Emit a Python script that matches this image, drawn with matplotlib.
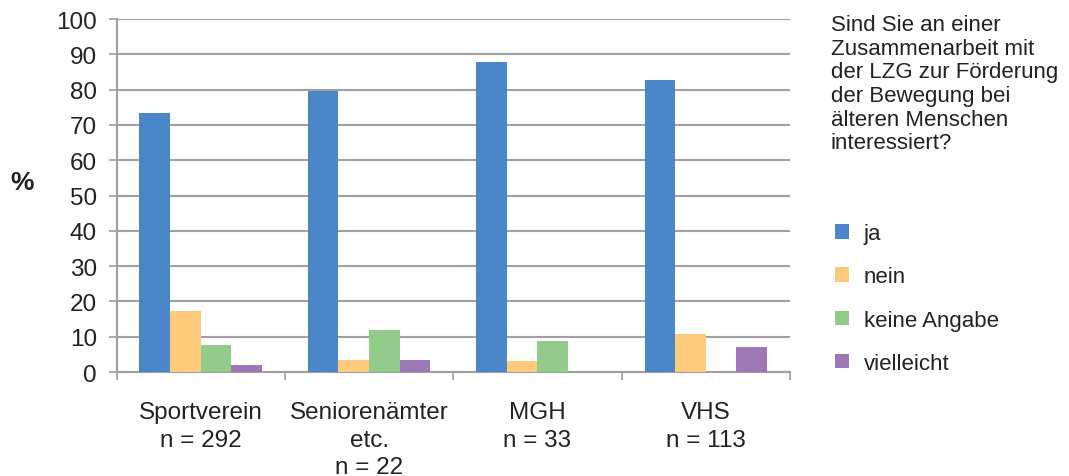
import numpy as np
import matplotlib.pyplot as plt

plt.rcParams['font.family'] = ['Liberation Sans', 'DejaVu Sans']

categories = ['Sportverein\nn = 292', 'Seniorenämter\netc.\nn = 22', 'MGH\nn = 33', 'VHS\nn = 113']
ja = [73.3, 79.5, 87.9, 82.7]
nein = [17.4, 3.5, 3.0, 10.7]
keine_angabe = [7.7, 11.8, 8.7, 0]
vielleicht = [2.0, 3.5, 0, 7.1]

series = [('ja', ja, '#4A86C8'),
          ('nein', nein, '#FECB7C'),
          ('keine Angabe', keine_angabe, '#93CC8A'),
          ('vielleicht', vielleicht, '#9E78B4')]

fig = plt.figure(figsize=(10.69, 4.77), dpi=100)
ax = fig.add_axes([0.109, 0.218, 0.630, 0.740])

x = np.arange(len(categories))
w = 1 / 5.5
for i, (name, vals, col) in enumerate(series):
    ax.bar(x + (i - 1.5) * w, vals, w, color=col, label=name, zorder=3)

grid_col = '#A0A0A0'
txt_col = '#222222'
ax.set_ylim(0, 100)
ax.set_xlim(-0.5, len(categories) - 0.5)
ax.set_yticks(range(0, 101, 10))
ax.yaxis.grid(True, color=grid_col, linewidth=1.5, zorder=0)
ax.tick_params(axis='y', labelsize=17.5, color=grid_col, length=6, width=1.2, pad=8,
               labelcolor=txt_col)

ax.set_xticks(x)
ax.set_xticklabels(categories, fontsize=17.5, linespacing=1.32, color=txt_col)
ax.tick_params(axis='x', which='major', length=0, pad=21)
ax.set_xticks(np.arange(len(categories) + 1) - 0.5, minor=True)
ax.tick_params(axis='x', which='minor', length=6, width=1.2, color=grid_col)

for s in ['top', 'right']:
    ax.spines[s].set_visible(False)
for s in ['left', 'bottom']:
    ax.spines[s].set_color(grid_col)
    ax.spines[s].set_linewidth(1.5)

fig.text(0.010, 0.617, '%', fontsize=19, fontweight='bold', ha='left', va='center',
         color=txt_col)

fig.text(0.777, 0.969,
         'Sind Sie an einer\nZusammenarbeit mit\nder LZG zur Förderung\nder Bewegung bei\nälteren Menschen\ninteressiert?',
         fontsize=16, ha='left', va='top', linespacing=1.17, color=txt_col)

leg = fig.legend(loc='upper left', bbox_to_anchor=(0.762, 0.572), frameon=False,
                 fontsize=16, handlelength=0.63, handleheight=0.63,
                 labelspacing=1.0, handletextpad=0.68)
for t in leg.get_texts():
    t.set_color(txt_col)

fig.savefig('out.png', dpi=100)
